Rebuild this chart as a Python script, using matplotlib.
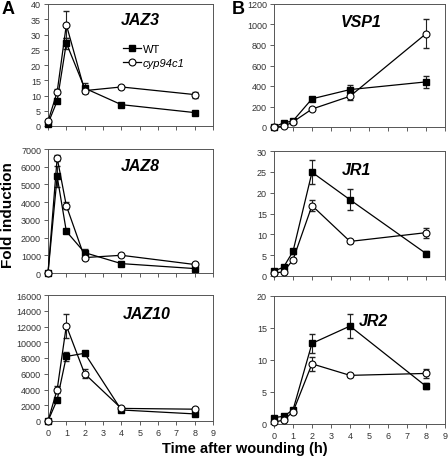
import numpy as np
import matplotlib
matplotlib.use("Agg")
import matplotlib.pyplot as plt
from matplotlib.lines import Line2D

plt.rcParams["font.family"] = ["Liberation Sans", "DejaVu Sans"]

hours = [0, 0.5, 1, 2, 4, 8]

# JAZ3
jaz3_wt = [0.8, 8.2, 27.2, 12.4, 7.0, 4.4]
jaz3_wt_err = [0.3, 0.8, 1.8, 1.6, 0.4, 0.3]
jaz3_cyp = [1.5, 11.2, 33.2, 11.6, 12.8, 10.3]
jaz3_cyp_err = [0.3, 0.8, 4.5, 0.8, 0.4, 1.0]
# JAZ8
jaz8_wt = [0, 5450, 2350, 1150, 530, 250]
jaz8_wt_err = [0, 600, 80, 200, 40, 40]
jaz8_cyp = [0, 6500, 3800, 870, 1000, 480]
jaz8_cyp_err = [0, 150, 200, 60, 60, 60]
# JAZ10
jaz10_wt = [0, 2700, 8200, 8600, 1400, 900]
jaz10_wt_err = [0, 200, 600, 200, 100, 100]
jaz10_cyp = [0, 4000, 12100, 6000, 1600, 1500]
jaz10_cyp_err = [0, 400, 1500, 600, 100, 100]
# VSP1
vsp1_wt = [0, 40, 60, 275, 365, 440]
vsp1_wt_err = [0, 8, 8, 20, 40, 55]
vsp1_cyp = [0, 5, 50, 175, 300, 910]
vsp1_cyp_err = [0, 3, 8, 10, 40, 140]
# JR1
jr1_wt = [1.2, 2.1, 5.9, 24.9, 18.3, 5.4]
jr1_wt_err = [0.2, 0.3, 0.5, 2.9, 2.5, 0.6]
jr1_cyp = [0.7, 1.0, 3.9, 16.9, 8.3, 10.4]
jr1_cyp_err = [0.1, 0.1, 0.4, 1.3, 0.3, 1.2]
# JR2
jr2_wt = [1.0, 1.2, 2.2, 12.6, 15.3, 5.9]
jr2_wt_err = [0.1, 0.2, 0.3, 1.5, 1.9, 0.5]
jr2_cyp = [0.3, 0.6, 1.9, 9.4, 7.6, 7.9]
jr2_cyp_err = [0.1, 0.1, 0.2, 1.1, 0.2, 0.7]

panels = [
    ("JAZ3", jaz3_wt, jaz3_wt_err, jaz3_cyp, jaz3_cyp_err, 40, 5, (0.56, 0.87)),
    ("VSP1", vsp1_wt, vsp1_wt_err, vsp1_cyp, vsp1_cyp_err, 1200, 200, (0.51, 0.86)),
    ("JAZ8", jaz8_wt, jaz8_wt_err, jaz8_cyp, jaz8_cyp_err, 7000, 1000, (0.56, 0.87)),
    ("JR1", jr1_wt, jr1_wt_err, jr1_cyp, jr1_cyp_err, 30, 5, (0.48, 0.85)),
    ("JAZ10", jaz10_wt, jaz10_wt_err, jaz10_cyp, jaz10_cyp_err, 16000, 2000, (0.60, 0.85)),
    ("JR2", jr2_wt, jr2_wt_err, jr2_cyp, jr2_cyp_err, 20, 5, (0.58, 0.81)),
]

W, H = 448, 460
fig = plt.figure(figsize=(W / 100, H / 100), dpi=100)

# axes boxes in pixels: (left, top, right, bottom)
boxes = [
    (48, 5, 213, 127), (274, 5, 445, 128),
    (48, 150, 213, 274), (274, 152, 445, 277),
    (48, 296, 213, 422), (274, 297, 445, 425),
]

for i, (name, wt, wte, cyp, cype, ymax, ystep, tpos) in enumerate(panels):
    l, t, r, b = boxes[i]
    ax = fig.add_axes([l / W, 1 - b / H, (r - l) / W, (b - t) / H])
    ax.errorbar(hours, wt, yerr=wte, fmt="none", ecolor="#222222",
                elinewidth=0.8, capsize=2, zorder=2)
    ax.errorbar(hours, cyp, yerr=cype, fmt="none", ecolor="#222222",
                elinewidth=0.8, capsize=2, zorder=2)
    ax.plot(hours, wt, color="black", marker="s", ms=5, lw=0.9,
            clip_on=False, zorder=3)
    ax.plot(hours, cyp, color="black", marker="o", ms=5, mfc="white",
            mew=0.8, lw=0.9, clip_on=False, zorder=4)
    ax.set_xlim(0, 9)
    ax.set_ylim(0, ymax)
    ax.set_xticks(range(10))
    ax.set_yticks(np.arange(0, ymax + ystep / 2, ystep))
    if i < 4:
        ax.set_xticklabels([])
    ax.tick_params(labelsize=6.5, colors="#444444", length=3, width=0.6,
                   pad=2, labelcolor="#333333")
    for s in ax.spines.values():
        s.set_color("#555555")
        s.set_linewidth(0.7)
    ax.text(tpos[0], tpos[1], name, transform=ax.transAxes, ha="center",
            va="center", fontsize=11.5, fontweight="bold", style="italic")
    if i == 0:
        handles = [
            Line2D([], [], color="black", marker="s", ms=5, lw=0.9),
            Line2D([], [], color="black", marker="o", ms=5, mfc="white",
                   mew=0.8, lw=0.9),
        ]
        leg = ax.legend(handles, ["WT", "cyp94c1"], loc="upper left",
                        bbox_to_anchor=(0.42, 0.72), frameon=False,
                        fontsize=8, handlelength=1.6, handletextpad=0.2,
                        labelspacing=0.35, borderpad=0)
        leg.get_texts()[1].set_style("italic")

fig.text(8 / W, 1 - 215 / H, "Fold induction", rotation=90, ha="center",
         va="center", fontsize=11, fontweight="bold")
fig.text(245 / W, 1 - 449 / H, "Time after wounding (h)", ha="center",
         va="center", fontsize=10.5, fontweight="bold")
fig.text(2 / W, 1 - 10 / H, "A", fontsize=13, fontweight="bold", va="center")
fig.text(232 / W, 1 - 10 / H, "B", fontsize=13, fontweight="bold", va="center")

fig.savefig("out.png", dpi=100)
